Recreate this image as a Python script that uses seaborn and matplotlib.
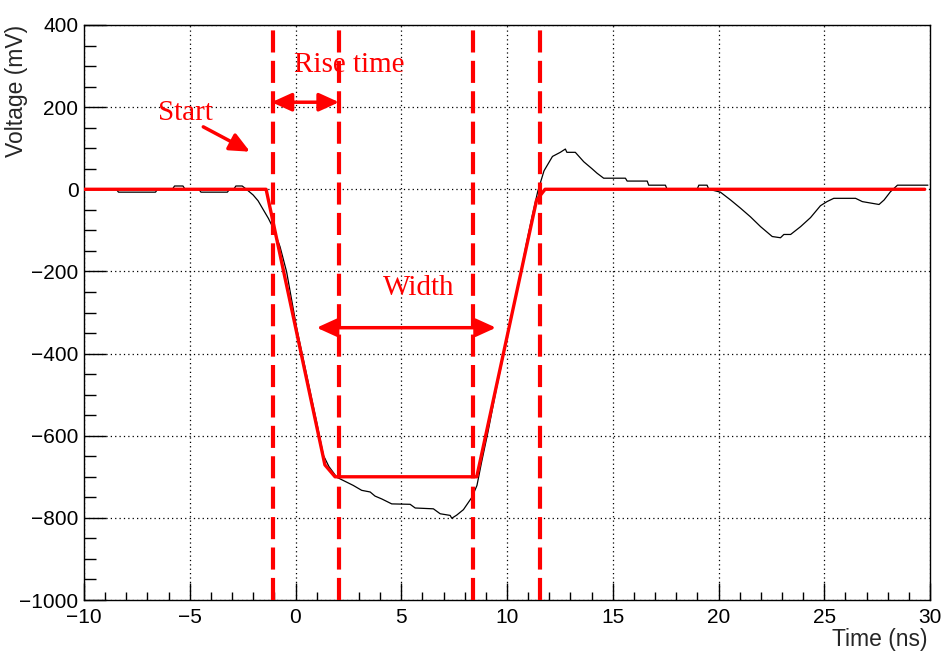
import matplotlib
matplotlib.use("Agg")
import matplotlib.pyplot as plt
from matplotlib.ticker import MultipleLocator
import seaborn as sns
import pandas as pd

# ---- data ----
wave_t = [-10, -8.47, -8.37, -6.62, -6.52, -5.82, -5.72, -5.32, -5.22, -4.57, -4.47, -3.22, -3.12,
          -2.92, -2.82, -2.52, -2.32, -2.0, -1.77, -1.52, -1.28, -1.05, -0.73, -0.42, 0.06, 0.53,
          1.0, 1.32, 1.58, 1.95, 2.26, 2.73, 3.13, 3.53, 3.76, 4.08, 4.55, 5.42, 5.66, 6.52, 6.84,
          7.31, 7.39, 7.63, 7.94, 8.34, 8.58, 8.80, 9.10, 9.50, 10.10, 10.60, 10.90, 11.20, 11.45,
          11.75, 12.15, 12.52, 12.76, 12.83, 13.23, 13.63, 14.02, 14.26, 14.57, 15.6, 15.68, 16.63,
          16.7, 17.49, 17.57, 18.99, 19.07, 19.46, 19.54, 19.86, 20.09, 20.57, 21.04, 21.51, 21.99,
          22.54, 22.93, 23.09, 23.41, 23.88, 24.35, 24.82, 25.13, 25.45, 26.48, 26.8, 27.59, 27.83,
          28.13, 28.46, 29.9]
wave_v = [0, 0, -7, -7, 0, 0, 8, 8, 0, 0, -7, -7, 0,
          0, 8, 8, 0, -14, -28, -50, -71, -95, -140, -201, -339, -453,
          -567, -648, -675, -701, -709, -721, -733, -737, -747, -754, -766, -767, -776, -778, -790,
          -794, -801, -793, -780, -750, -721, -664, -591, -485, -339, -217, -136, -63, -6,
          45, 80, 90, 98, 90, 90, 67, 50, 39, 27, 27, 20, 20,
          10, 10, 0, 0, 10, 10, 0, -4, -7, -26, -46, -67, -91,
          -115, -118, -110, -110, -91, -69, -40, -30, -22, -22, -30, -37, -26,
          -6, 10, 10]

fit_t = [-10, -1.39, 1.39, 1.87, 8.57, 11.40, 11.80, 29.75]
fit_v = [0, 0, -671, -700, -700, -26, 0, 0]

marker_t = [-1.08, 2.07, 8.41, 11.56]

start_label = "Start"
rise_label = "Rise time"
width_label = "Width"
x_title = "Time (ns)"
y_title = "Voltage (mV)"

# ---- figure ----
sns.set_theme(style="white")
plt.rcParams["font.family"] = ["Liberation Sans", "DejaVu Sans"]
plt.rcParams["axes.unicode_minus"] = True

fig = plt.figure(figsize=(9.43, 6.51), dpi=100)
fig.patch.set_facecolor("white")
ax = fig.add_axes([84 / 943, 1 - 600 / 651, 846 / 943, 575 / 651])
ax.set_facecolor("white")

wave_df = pd.DataFrame({"t": wave_t, "v": wave_v})
fit_df = pd.DataFrame({"t": fit_t, "v": fit_v})

sns.lineplot(data=wave_df, x="t", y="v", ax=ax, color="black", lw=0.9,
             sort=False, estimator=None, zorder=3)
sns.lineplot(data=fit_df, x="t", y="v", ax=ax, color="red", lw=2.4,
             sort=False, estimator=None, zorder=4)

for xm in marker_t:
    ax.axvline(xm, color="red", lw=3, dashes=(5.3, 2.0), zorder=5)

ax.set_xlim(-10, 30)
ax.set_ylim(-1000, 400)

ax.xaxis.set_major_locator(MultipleLocator(5))
ax.xaxis.set_minor_locator(MultipleLocator(1))
ax.yaxis.set_major_locator(MultipleLocator(200))
ax.yaxis.set_minor_locator(MultipleLocator(50))

ax.tick_params(axis="both", which="both", direction="in", bottom=True, left=True,
               top=False, right=False, color="black", width=1,
               labelsize=15, labelcolor="black")
ax.tick_params(axis="x", which="major", length=12, pad=6)
ax.tick_params(axis="x", which="minor", length=6)
ax.tick_params(axis="y", which="major", length=16, pad=4)
ax.tick_params(axis="y", which="minor", length=8.6)

ax.grid(True, which="major", color="black", lw=0.9, linestyle=(0, (1, 2.5)), zorder=1)
for s in ax.spines.values():
    s.set_color("black")
    s.set_linewidth(1.0)
    s.set_visible(True)

ax.set_xlabel(x_title, fontsize=16.5, loc="right")
ax.xaxis.set_label_coords(0.9965, -0.068)
ax.xaxis.label.set_va("center")
ax.set_ylabel(y_title, fontsize=16.5, loc="top")
ax.yaxis.set_label_coords(-0.066, 1.0)

serif = ["Liberation Serif", "DejaVu Serif"]
ax.text(-5.22, 169, start_label, color="red", fontsize=21, family=serif,
        ha="center", va="baseline", zorder=6)
ax.text(2.54, 285, rise_label, color="red", fontsize=21, family=serif,
        ha="center", va="baseline", zorder=6)
ax.text(5.81, -257, width_label, color="red", fontsize=21, family=serif,
        ha="center", va="baseline", zorder=6)

dbl = dict(arrowstyle="<|-|>,head_length=0.55,head_width=0.25", mutation_scale=22,
           lw=2.5, color="red", shrinkA=0, shrinkB=0)
ax.annotate("", xy=(-1.13, 212), xytext=(2.06, 212), arrowprops=dbl, zorder=6)
ax.annotate("", xy=(1.0, -337), xytext=(9.48, -337), arrowprops=dbl, zorder=6)
sgl = dict(arrowstyle="-|>,head_length=0.55,head_width=0.25", mutation_scale=22,
           lw=2.5, color="red", shrinkA=0, shrinkB=0)
ax.annotate("", xy=(-2.15, 91.5), xytext=(-4.36, 152), arrowprops=sgl, zorder=6)

fig.savefig("out.png", dpi=100, facecolor="white")
